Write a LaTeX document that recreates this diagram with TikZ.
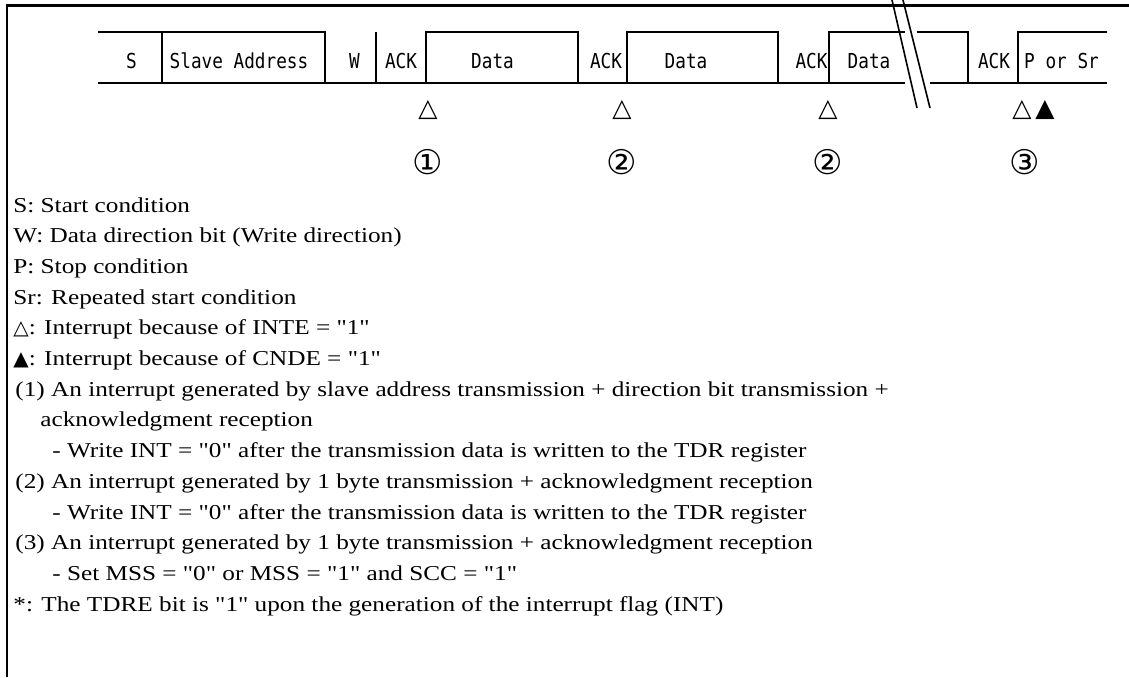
\documentclass[tikz,border=0pt]{standalone}
\usepackage{fontspec}
\setmainfont{Liberation Serif}[FakeStretch=1.19, Ligatures=TeXOff]
\newfontfamily\rowfont{DejaVu Sans Mono}[FakeStretch=0.86]
\newfontfamily\symfont{DejaVu Sans}
\tikzset{
  fld/.style  ={font=\rowfont\fontsize{10.3}{12}\selectfont, inner sep=0pt, anchor=base},
  ln/.style   ={line width=0.8pt},
  outer/.style={line width=1.25pt},
  irq/.style  ={font=\symfont\fontsize{12.5}{14}\selectfont, inner sep=0pt},
  num/.style  ={font=\symfont\fontsize{17}{18}\selectfont, inner sep=0pt},
  note/.style ={font=\fontsize{10.6}{12}\selectfont, inner sep=0pt, anchor=base west},
}
\newcommand\wtri{{\symfont\fontsize{10}{12}\selectfont △}}
\newcommand\btri{{\symfont\fontsize{10}{12}\selectfont ▲}}

\begin{document}
\begin{tikzpicture}[x=0.5pt, y=-0.5pt]
    \useasboundingbox (0,0) rectangle (1129,677);
    % frame
    \draw[outer] (1129,5.3) -- (7.2,5.3) -- (7.2,677);
    % transfer row
    \draw[ln] (98,32) -- (325,32) -- (325,83);
    \draw[ln] (162,32) -- (162,83);
    \draw[ln] (376,32) -- (376,83);
    \draw[ln] (426,83) -- (426,32) -- (578,32) -- (578,83);
    \draw[ln] (627,83) -- (627,32) -- (778,32) -- (778,83);
    \draw[ln] (829,83) -- (829,32) -- (905,32);
    \draw[ln] (917,32) -- (968,32) -- (968,83);
    \draw[ln] (1018,83) -- (1018,32) -- (1107,32);
    \draw[ln] (98,83) -- (905,83);
    \draw[ln] (930,83) -- (1107,83);
    % break marks
    \draw[ln] (892,0) -- (917,108);
    \draw[ln] (903,0) -- (930,108);
    % field texts
    \node[fld] (s)    at (131.5,68) {S};
    \node[fld] (sa)   at (239,68)   {Slave Address};
    \node[fld] (w)    at (354.5,68) {W};
    \node[fld] (ack1) at (401,68)   {ACK};
    \node[fld] (d1)   at (492.5,68) {Data};
    \node[fld] (ack2) at (606,68)   {ACK};
    \node[fld] (d2)   at (686,68)   {Data};
    \node[fld] (ack3) at (811.5,68) {ACK};
    \node[fld] (d3)   at (869,68)   {Data};
    \node[fld] (ack4) at (994,68)   {ACK};
    \node[fld] (pors) at (1061.5,68){P or Sr};
    % interrupt marks
    \node[irq] (t1) at (428,110)  {△};
    \node[irq] (t2) at (622,110)  {△};
    \node[irq] (t3) at (828,110)  {△};
    \node[irq] (t4) at (1022,110) {△};
    \node[irq] (tb) at (1045,110) {▲};
    \node[num] (n1) at (428,161.7)  {①};
    \node[num] (n2) at (622,161.7)  {②};
    \node[num] (n3) at (828,161.7)  {②};
    \node[num] (n4) at (1025,161.7) {③};
    % legend
    \node[note] (l1)  at (13,212)   {S: Start condition};
    \node[note] (l2)  at (13,242.7) {W: Data direction bit (Write direction)};
    \node[note] (l3)  at (13,273.4) {P: Stop condition};
    \node[note] (l4)  at (13,304.1) {Sr: Repeated start condition};
    \node[note] (l5)  at (13,334.8) {\wtri: Interrupt because of INTE = "1"};
    \node[note] (l6)  at (13,365.5) {\btri: Interrupt because of CNDE = "1"};
    \node[note] (l7)  at (15,396.2) {(1) An interrupt generated by slave address transmission + direction bit transmission +};
    \node[note] (l8)  at (40,426.9) {acknowledgment reception};
    \node[note] (l9)  at (52,457.6) {- Write INT = "0" after the transmission data is written to the TDR register};
    \node[note] (l10) at (15,488.3) {(2) An interrupt generated by 1 byte transmission + acknowledgment reception};
    \node[note] (l11) at (52,519)   {- Write INT = "0" after the transmission data is written to the TDR register};
    \node[note] (l12) at (15,549.7) {(3) An interrupt generated by 1 byte transmission + acknowledgment reception};
    \node[note] (l13) at (52,580.4) {- Set MSS = "0" or MSS = "1" and SCC = "1"};
    \node[note] (l14) at (13,611.1) {*: The TDRE bit is "1" upon the generation of the interrupt flag (INT)};
\end{tikzpicture}
\end{document}
